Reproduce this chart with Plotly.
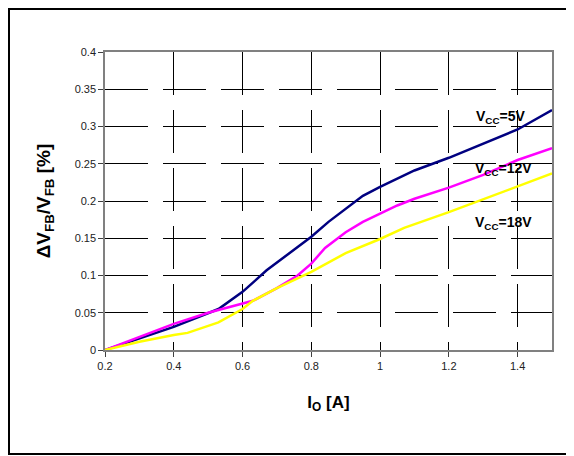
import plotly.graph_objects as go

# Data
x_5v = [0.2, 0.3, 0.4, 0.53, 0.6, 0.67, 0.8, 0.85, 0.9, 0.95, 1.0, 1.05, 1.1, 1.2, 1.3, 1.4, 1.5]
y_5v = [0.0, 0.016, 0.031, 0.055, 0.078, 0.107, 0.152, 0.172, 0.190, 0.207, 0.219, 0.230, 0.241, 0.258, 0.277, 0.296, 0.322]

x_12v = [0.2, 0.3, 0.4, 0.5, 0.63, 0.7, 0.76, 0.8, 0.84, 0.9, 0.95, 1.0, 1.05, 1.1, 1.2, 1.3, 1.4, 1.5]
y_12v = [0.0, 0.018, 0.035, 0.050, 0.066, 0.083, 0.100, 0.116, 0.137, 0.158, 0.172, 0.183, 0.194, 0.203, 0.218, 0.235, 0.255, 0.271]

x_18v = [0.2, 0.3, 0.4, 0.44, 0.53, 0.6, 0.63, 0.7, 0.8, 0.9, 1.0, 1.07, 1.2, 1.3, 1.4, 1.5]
y_18v = [0.0, 0.011, 0.020, 0.023, 0.037, 0.055, 0.066, 0.083, 0.105, 0.130, 0.149, 0.164, 0.185, 0.202, 0.219, 0.237]

series_names = ["V<sub>CC</sub>=5V", "V<sub>CC</sub>=12V", "V<sub>CC</sub>=18V"]
series_colors = ["#000080", "#FF00FF", "#FFFF00"]
label_x = [1.273, 1.27, 1.27]
label_y = [0.313, 0.243, 0.1705]

x_tick_vals = [0.2, 0.4, 0.6, 0.8, 1.0, 1.2, 1.4]
x_tick_text = ["0.2", "0.4", "0.6", "0.8", "1", "1.2", "1.4"]
y_tick_vals = [0, 0.05, 0.1, 0.15, 0.2, 0.25, 0.3, 0.35, 0.4]
y_tick_text = ["0", "0.05", "0.1", "0.15", "0.2", "0.25", "0.3", "0.35", "0.4"]

FONT = "Liberation Sans, Arial, sans-serif"

# figure geometry (page has an 8px body margin)
W, H = 566, 448
ML, MR, MT, MB = 97, 22, 44, 106
PW, PH = W - ML - MR, H - MT - MB

fig = go.Figure()
for xs, ys, name, col in zip([x_5v, x_12v, x_18v], [y_5v, y_12v, y_18v], series_names, series_colors):
    fig.add_trace(go.Scatter(x=xs, y=ys, mode="lines", name=name,
                             line=dict(color=col, width=2.5), showlegend=False))

for name, lx, ly in zip(series_names, label_x, label_y):
    fig.add_annotation(x=lx, y=ly, xref="x", yref="y", text=name, showarrow=False,
                       xanchor="left", yanchor="middle",
                       font=dict(family=FONT, size=14, color="black", weight="bold"))

# outer frame (left, top and bottom edges; the right edge lies outside the picture)
fx0 = (1 - ML) / PW
fx1 = (W + 10 - ML) / PW
fy0 = (MT + PH - (H - 2)) / PH
fy1 = (MT + PH - 1) / PH
fig.add_shape(type="path", xref="paper", yref="paper",
              path=f"M {fx1},{fy1} L {fx0},{fy1} L {fx0},{fy0} L {fx1},{fy0}",
              line=dict(color="black", width=2), layer="above")

axis_common = dict(showline=True, linecolor="#808080", linewidth=1.5, mirror=True,
                   showgrid=True, gridcolor="black", gridwidth=1, griddash="43px,15px",
                   zeroline=False, ticks="outside", ticklen=5, tickcolor="#404040",
                   tickfont=dict(family=FONT, size=11, color="#222222"))

fig.update_layout(
    width=W, height=H,
    margin=dict(l=ML, r=MR, t=MT, b=MB),
    paper_bgcolor="white", plot_bgcolor="white",
    xaxis=dict(range=[0.2, 1.5], tickvals=x_tick_vals, ticktext=x_tick_text,
               title=dict(text="I<sub>O</sub> [A]", standoff=25,
                          font=dict(family=FONT, size=17, color="black", weight="bold")),
               **axis_common),
    yaxis=dict(range=[0, 0.4], tickvals=y_tick_vals, ticktext=y_tick_text,
               title=dict(text="ΔV<sub>FB</sub>/V<sub>FB</sub> [%]", standoff=19,
                          font=dict(family=FONT, size=19, color="black", weight="bold")),
               **axis_common),
)

fig.write_html("out.html")
